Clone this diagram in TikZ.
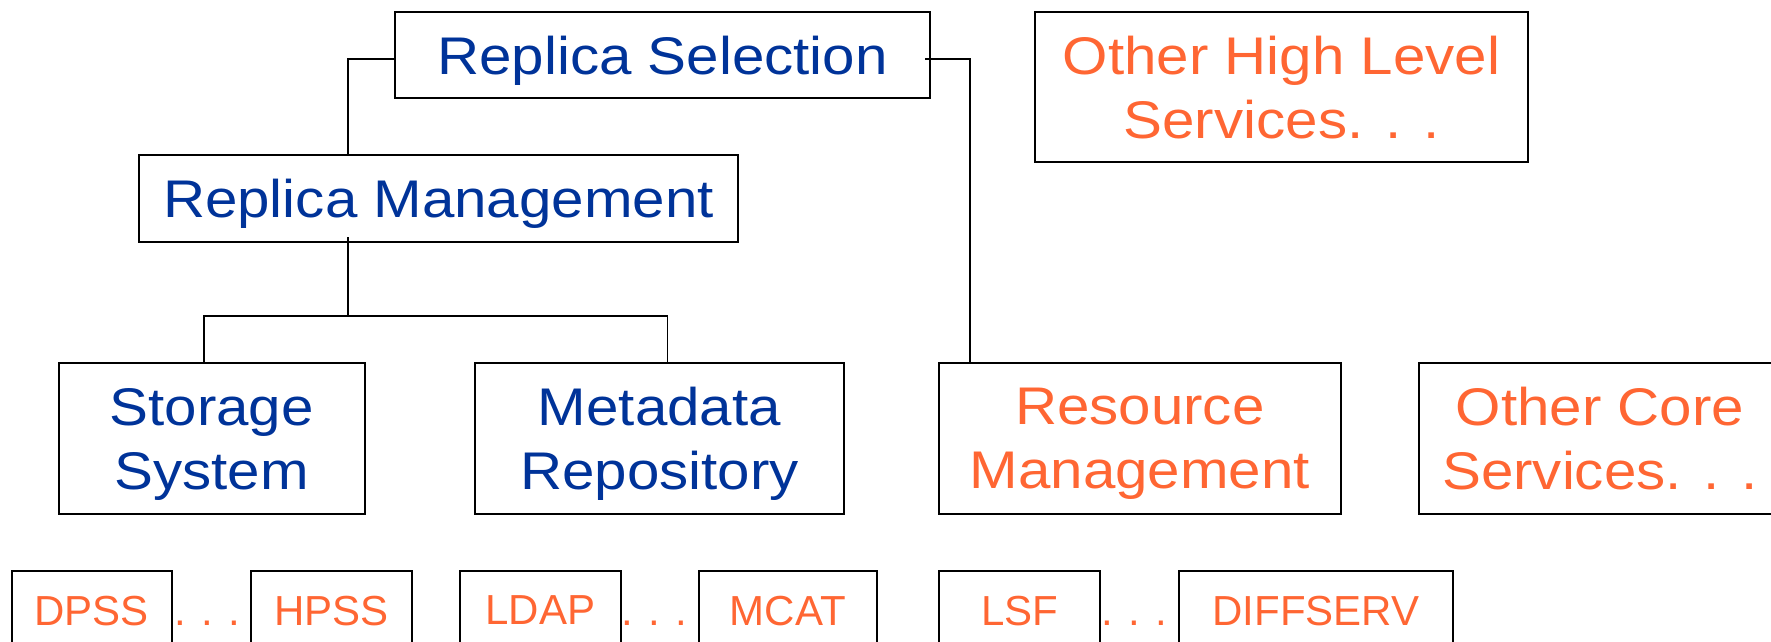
\documentclass[tikz,border=0pt]{standalone}
\usepackage{fontspec}
\usetikzlibrary{calc}
\newfontfamily\bigf[FakeStretch=1.1]{Liberation Sans}
\newfontfamily\smf{Liberation Sans}
\definecolor{rblue}{RGB}{0,51,153}
\definecolor{rorange}{RGB}{255,102,51}
\tikzset{
  box/.style={draw=black, line width=1pt, inner sep=0pt, align=center, text depth=0pt},
  bigbox/.style={box, font=\bigf\fontsize{26.5pt}{32pt}\selectfont, text depth=-2.6pt},
  smallbox/.style={box, font=\smf\fontsize{21pt}{25pt}\selectfont, text=rorange, minimum height=39.5pt},
  conn/.style={line width=0.8pt, draw=black},
  dotsep/.style={font=\smf\fontsize{21pt}{25pt}\selectfont, text=rorange, inner sep=0pt, anchor=base}
}
\begin{document}
\begin{tikzpicture}[x=0.5pt,y=-0.5pt]
\useasboundingbox (0,0) rectangle (1771,642);
\clip (0,0) rectangle (1771,642);
% upper level
\node[bigbox, text=rblue, minimum width=267.5pt, minimum height=43.3pt] (rs) at (662.5,55) {Replica Selection};
\node[bigbox, text=rblue, minimum width=299.5pt, minimum height=43.5pt] (rm) at (438.5,198.5) {Replica Management};
\node[bigbox, text=rorange, minimum width=246.5pt, minimum height=75.15pt] (ohls) at (1281.5,87) {Other High Level\\Services.\hspace{10.9pt}.\hspace{10.9pt}.};
% core level
\node[bigbox, text=rblue, minimum width=152.75pt, minimum height=75.5pt] (ss) at (211.75,438.5) {Storage\\System};
\node[bigbox, text=rblue, minimum width=184.5pt, minimum height=75.5pt] (mr) at (659.5,438.5) {Metadata\\Repository};
\node[bigbox, text=rorange, minimum width=200.75pt, minimum height=75.5pt] (resm) at (1139.75,438.5) {Resource\\Management};
\node[bigbox, text=rorange, minimum width=181pt, minimum height=75.5pt] (ocs) at (1600,438.5) {Other Core\\Services.\hspace{10.9pt}.\hspace{10.9pt}.};
% bottom level
\node[smallbox, minimum width=80.25pt] (dpss) at (91.75,610.5) {DPSS};
\node[smallbox, minimum width=80.5pt] (hpss) at (331.5,610.5) {HPSS};
\node[smallbox, minimum width=80.25pt] (ldap) at (540.25,610.5) {LDAP};
\node[smallbox, minimum width=88.75pt] (mcat) at (787.75,610.5) {MCAT};
\node[smallbox, minimum width=80.5pt] (lsf) at (1019.5,610.5) {LSF};
\node[smallbox, minimum width=137pt] (diff) at (1316,610.5) {DIFFSERV};
\node[dotsep] (d1) at ($(dpss.east)!0.5!(hpss.west)+(-4,14.5)$) {.\hspace{7.66pt}.\hspace{7.66pt}.};
\node[dotsep] (d2) at ($(ldap.east)!0.5!(mcat.west)+(-5,14.5)$) {.\hspace{7.66pt}.\hspace{7.66pt}.};
\node[dotsep] (d3) at ($(lsf.east)!0.5!(diff.west)+(-5,14.5)$) {.\hspace{7.66pt}.\hspace{7.66pt}.};
% connectors
\draw[conn] ($(rs.west)+(0,4)$) -| ($(rm.north)+(-90.5,0)$);
\draw[conn] ($(rs.east)+(-6,4)$) -| ($(resm.north west)+(32,0)$);
\coordinate (bus) at ($(rm.south)+(-90.5,73)$);
\draw[conn] ($(rm.south)+(-90.5,-6)$) -- (bus);
\draw[conn] ($(ss.north)+(-7.75,0)$) |- (bus) -| ($(mr.north)+(8,0)$);
\end{tikzpicture}
\end{document}
